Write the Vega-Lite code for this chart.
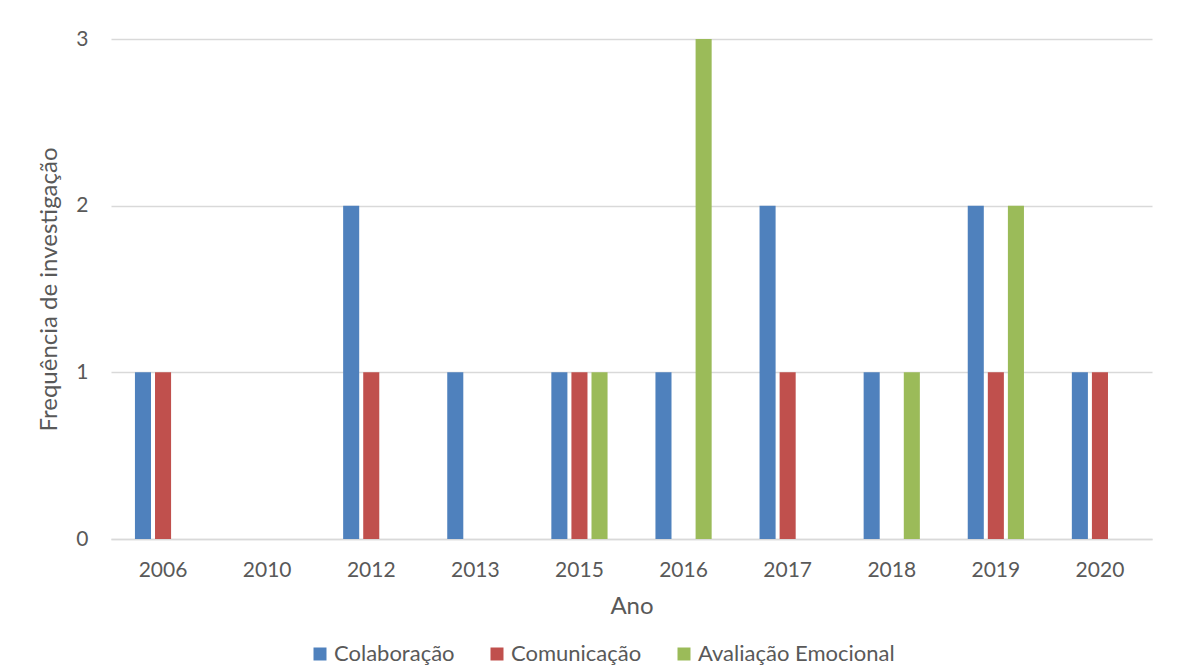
{
  "$schema": "https://vega.github.io/schema/vega-lite/v6.json",
  "width": 1041,
  "height": 500,
  "autosize": {"type": "none"},
  "padding": {"left": 111, "top": 39, "right": 26, "bottom": 133},
  "background": "#ffffff",
  "data": {
    "values": [
      {"ano": "2006", "serie": "Colaboração", "freq": 1},
      {"ano": "2006", "serie": "Comunicação", "freq": 1},
      {"ano": "2006", "serie": "Avaliação Emocional", "freq": 0},
      {"ano": "2010", "serie": "Colaboração", "freq": 0},
      {"ano": "2010", "serie": "Comunicação", "freq": 0},
      {"ano": "2010", "serie": "Avaliação Emocional", "freq": 0},
      {"ano": "2012", "serie": "Colaboração", "freq": 2},
      {"ano": "2012", "serie": "Comunicação", "freq": 1},
      {"ano": "2012", "serie": "Avaliação Emocional", "freq": 0},
      {"ano": "2013", "serie": "Colaboração", "freq": 1},
      {"ano": "2013", "serie": "Comunicação", "freq": 0},
      {"ano": "2013", "serie": "Avaliação Emocional", "freq": 0},
      {"ano": "2015", "serie": "Colaboração", "freq": 1},
      {"ano": "2015", "serie": "Comunicação", "freq": 1},
      {"ano": "2015", "serie": "Avaliação Emocional", "freq": 1},
      {"ano": "2016", "serie": "Colaboração", "freq": 1},
      {"ano": "2016", "serie": "Comunicação", "freq": 0},
      {"ano": "2016", "serie": "Avaliação Emocional", "freq": 3},
      {"ano": "2017", "serie": "Colaboração", "freq": 2},
      {"ano": "2017", "serie": "Comunicação", "freq": 1},
      {"ano": "2017", "serie": "Avaliação Emocional", "freq": 0},
      {"ano": "2018", "serie": "Colaboração", "freq": 1},
      {"ano": "2018", "serie": "Comunicação", "freq": 0},
      {"ano": "2018", "serie": "Avaliação Emocional", "freq": 1},
      {"ano": "2019", "serie": "Colaboração", "freq": 2},
      {"ano": "2019", "serie": "Comunicação", "freq": 1},
      {"ano": "2019", "serie": "Avaliação Emocional", "freq": 2},
      {"ano": "2020", "serie": "Colaboração", "freq": 1},
      {"ano": "2020", "serie": "Comunicação", "freq": 1},
      {"ano": "2020", "serie": "Avaliação Emocional", "freq": 0}
    ]
  },
  "mark": {"type": "bar"},
  "encoding": {
    "x": {
      "field": "ano",
      "type": "nominal",
      "sort": null,
      "scale": {"paddingInner": 0.46, "paddingOuter": 0.23},
      "axis": {
        "title": "Ano",
        "labelAngle": 0,
        "ticks": false,
        "labelPadding": 20,
        "titlePadding": 14,
        "domainColor": "#D9D9D9",
        "domainWidth": 1.3
      }
    },
    "xOffset": {
      "field": "serie",
      "type": "nominal",
      "sort": ["Colaboração", "Comunicação", "Avaliação Emocional"],
      "scale": {"paddingInner": 0.2, "paddingOuter": 0}
    },
    "y": {
      "field": "freq",
      "type": "quantitative",
      "scale": {"domain": [0, 3], "nice": false},
      "axis": {
        "title": "Frequência de investigação",
        "values": [0, 1, 2, 3],
        "format": "d",
        "ticks": false,
        "domain": false,
        "labelPadding": 23,
        "titlePadding": 14,
        "gridColor": "#D9D9D9",
        "gridWidth": 1.3
      }
    },
    "color": {
      "field": "serie",
      "type": "nominal",
      "scale": {
        "domain": ["Colaboração", "Comunicação", "Avaliação Emocional"],
        "range": ["#4F81BD", "#C0504D", "#9BBB59"]
      },
      "legend": {
        "title": null,
        "orient": "none",
        "direction": "horizontal",
        "legendX": 198,
        "legendY": 604,
        "symbolType": "square",
        "symbolSize": 169,
        "symbolStrokeWidth": 0,
        "labelOffset": 3,
        "labelLimit": 400,
        "columnPadding": 31
      }
    }
  },
  "config": {
    "font": "Lato",
    "view": {"stroke": null},
    "axis": {
      "labelFont": "Lato",
      "labelFontSize": 21,
      "labelColor": "#595959",
      "titleFont": "Lato",
      "titleFontSize": 24,
      "titleFontWeight": "normal",
      "titleColor": "#595959"
    },
    "legend": {
      "labelFont": "Lato",
      "labelFontSize": 22,
      "labelColor": "#595959"
    }
  }
}
